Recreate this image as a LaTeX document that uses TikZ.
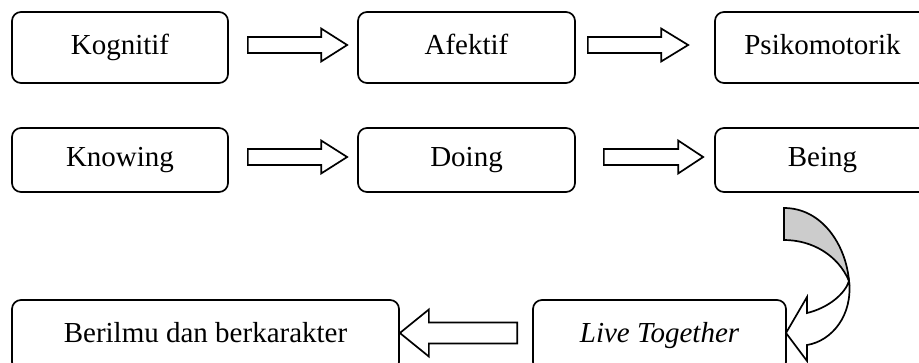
\documentclass[tikz,border=0pt]{standalone}
\usepackage{fontspec}
\setmainfont{Liberation Serif}
\usetikzlibrary{calc}
\tikzset{
  box/.style={draw, line width=1.7pt, rounded corners=9pt, inner sep=0pt,
    text height=19pt, text depth=6pt, font=\fontsize{29}{34}\selectfont},
  blockarr/.style={draw, fill=white, line width=1.7pt, line join=miter},
  backface/.style={blockarr, fill=black!20}
}
% #1 tail reference point, #2 tip point, #3 shaft half width, #4 head half width, #5 signed head length
\newcommand\blockarrow[5]{%
  \path[blockarr] let \p1=(#1), \p2=(#2) in
    ({\x1},{\y2+#3}) -- ({\x2-(#5)},{\y2+#3}) -- ({\x2-(#5)},{\y2+#4}) -- ({\x2},{\y2})
    -- ({\x2-(#5)},{\y2-#4}) -- ({\x2-(#5)},{\y2-#3}) -- ({\x1},{\y2-#3}) -- cycle;}
\begin{document}
\begin{tikzpicture}[x=1pt,y=1pt]
\useasboundingbox (0,0) rectangle (919,-362);
\clip (0,0) rectangle (919,-362);
% row 1
\node[box, minimum width=216pt, minimum height=71pt] (kog) at (120,-47.5) {Kognitif};
\node[box, minimum width=217pt, minimum height=71pt] (afe) at (466.5,-47.5) {Afektif};
\node[box, minimum width=215pt, minimum height=71pt] (psi) at (822.5,-47.5) {Psikomotorik};
% row 2
\node[box, minimum width=216pt, minimum height=64pt] (know) at (120,-160) {Knowing};
\node[box, minimum width=217pt, minimum height=64pt] (doing) at (466.5,-160) {Doing};
\node[box, minimum width=215pt, minimum height=64pt] (being) at (822.5,-160) {Being};
% row 3
\node[box, minimum width=387pt, minimum height=71pt] (ber) at (205.5,-335.5) {Berilmu dan berkarakter};
\node[box, minimum width=253pt, minimum height=71pt] (live) at (659.5,-335.5) {\itshape Live Together};
% block arrows
\blockarrow{$(kog.east)+(19,0)$}{$(afe.west)+(-10,2.5)$}{8pt}{16.5pt}{26pt}
\blockarrow{$(afe.east)+(12,0)$}{$(psi.west)+(-26,2.5)$}{8pt}{16.5pt}{27pt}
\blockarrow{$(know.east)+(19,0)$}{$(doing.west)+(-10,3)$}{8pt}{16.5pt}{26pt}
\blockarrow{$(doing.east)+(28,0)$}{$(being.west)+(-11,3)$}{8pt}{16.5pt}{25pt}
\blockarrow{$(live.west)+(-15,0)$}{$(ber.east)+(0,2.5)$}{10.5pt}{23.5pt}{-29pt}
% curved arrow from Being to Live Together
\path[blockarr] (849,-281) .. controls (845,-294) and (828,-308) .. (807,-313)
  -- (807,-297) -- (786,-333) -- (807,-361) -- (807,-345)
  .. controls (832,-341) and (853,-315) .. (849,-281) -- cycle;
\path[backface] (784,-208) -- (784,-240) .. controls (812,-240) and (838,-255) .. (849,-281)
  .. controls (846,-245) and (822,-208) .. (784,-208) -- cycle;
\end{tikzpicture}
\end{document}
